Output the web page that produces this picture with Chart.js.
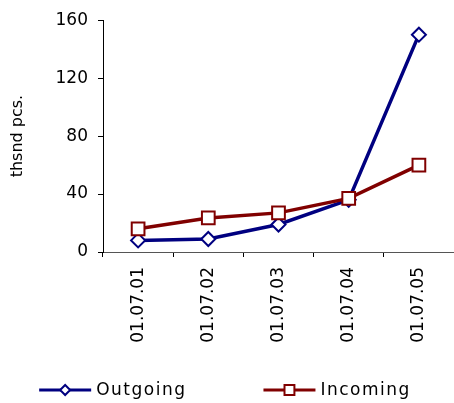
<!DOCTYPE html>
<html>
<head>
<meta charset="utf-8">
<script src="https://cdn.jsdelivr.net/npm/chart.js@4/dist/chart.umd.min.js"></script>
<style>
  html, body { margin: 0; padding: 0; background: #fff; }
  #wrap { width: 454px; height: 403px; }
</style>
</head>
<body>
<div id="wrap"><canvas id="chart"></canvas></div>
<script>
// dados
const categories = ['01.07.01', '01.07.02', '01.07.03', '01.07.04', '01.07.05'];
const outgoing = [8, 9, 19, 36, 150];
const incoming = [16, 23.5, 27, 37, 60];
const yTicks = [0, 40, 80, 120, 160];
const seriesNames = ['Outgoing', 'Incoming'];

const FONT = '"DejaVu Sans", sans-serif';

// legenda desenhada à mão: linha + marcador, texto espaçado
const lineLegend = {
    id: 'lineLegend',
    afterDraw(chart) {
        const ctx = chart.ctx;
        const y = 390;
        const lineLen = 52, gapText = 5, gapItem = 77;
        ctx.save();
        ctx.font = '17px ' + FONT;
        ctx.letterSpacing = '1.5px';
        ctx.textBaseline = 'middle';
        const items = chart.data.datasets.map(ds => ({
            ds: ds,
            w: lineLen + gapText + ctx.measureText(ds.label).width
        }));
        const total = items.reduce((s, it) => s + it.w, 0) + gapItem * (items.length - 1);
        let x = (chart.width - total) / 2 - 2;
        items.forEach(it => {
            const ds = it.ds;
            ctx.strokeStyle = ds.borderColor;
            ctx.lineWidth = 3;
            ctx.beginPath();
            ctx.moveTo(x, y);
            ctx.lineTo(x + lineLen, y);
            ctx.stroke();
            ctx.fillStyle = '#fff';
            ctx.lineWidth = 2;
            Chart.helpers.drawPoint(ctx, {
                pointStyle: ds.pointStyle,
                radius: ds.pointStyle === 'rect' ? 7 : 5,
                rotation: 0,
                borderWidth: 2
            }, x + lineLen / 2, y);
            ctx.fillStyle = '#000';
            ctx.fillText(ds.label, x + lineLen + gapText, y + 1);
            x += it.w + gapItem;
        });
        ctx.restore();
    }
};

new Chart(document.getElementById('chart').getContext('2d'), {
    type: 'line',
    data: {
        labels: categories,
        datasets: [
            {
                label: seriesNames[0],
                data: outgoing,
                borderColor: '#000080',
                backgroundColor: '#ffffff',
                borderWidth: 3.5,
                pointStyle: 'rectRot',
                pointRadius: 7,
                pointBorderWidth: 2,
                pointBackgroundColor: '#ffffff',
                pointBorderColor: '#000080',
                tension: 0,
                clip: false,
                order: 1
            },
            {
                label: seriesNames[1],
                data: incoming,
                borderColor: '#800000',
                backgroundColor: '#ffffff',
                borderWidth: 3.5,
                pointStyle: 'rect',
                pointRadius: 9,
                pointBorderWidth: 2,
                pointBackgroundColor: '#ffffff',
                pointBorderColor: '#800000',
                tension: 0,
                clip: false,
                order: 0
            }
        ]
    },
    options: {
        responsive: true,
        maintainAspectRatio: false,
        animation: false,
        layout: {
            autoPadding: false,
            padding: { top: 19, right: 0, bottom: 50, left: 0 }
        },
        plugins: {
            legend: { display: false },
            tooltip: { enabled: false }
        },
        scales: {
            x: {
                offset: true,
                grid: {
                    offset: true,
                    drawOnChartArea: false,
                    drawTicks: true,
                    tickLength: 5,
                    color: '#000'
                },
                border: { display: true, color: '#555', width: 1 },
                ticks: {
                    color: '#000',
                    font: { family: FONT, size: 17 },
                    minRotation: 90,
                    maxRotation: 90,
                    padding: 10
                },
                afterFit: function (scale) {
                    scale.height = 101;
                    scale.paddingLeft = 0;
                    scale.paddingRight = 0;
                }
            },
            y: {
                min: 0,
                max: 160,
                afterBuildTicks: function (scale) {
                    scale.ticks = yTicks.map(v => ({ value: v }));
                },
                grid: {
                    drawOnChartArea: false,
                    drawTicks: true,
                    tickLength: 5,
                    color: '#000'
                },
                border: { display: true, color: '#000', width: 1 },
                ticks: {
                    color: '#000',
                    font: { family: FONT, size: 17 },
                    padding: 10
                },
                title: {
                    display: true,
                    text: 'thsnd pcs.',
                    color: '#000',
                    font: { family: FONT, size: 16 },
                    padding: 8
                },
                afterFit: function (scale) { scale.width = 103; }
            }
        }
    },
    plugins: [lineLegend]
});
</script>
</body>
</html>
